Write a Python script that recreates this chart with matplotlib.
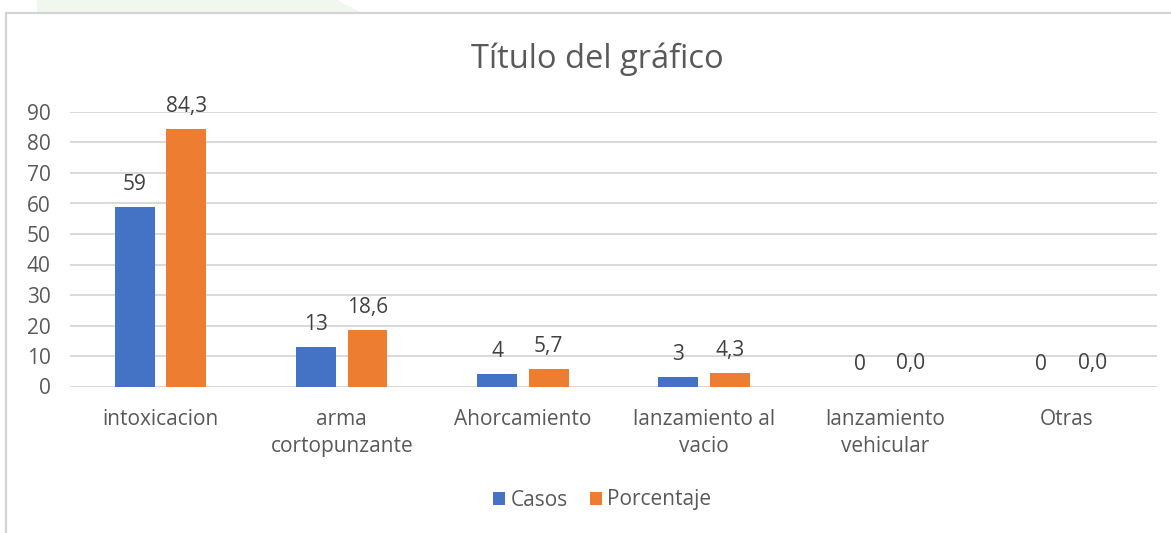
#!/usr/bin/env python
"""Bar chart: casos y porcentaje por mecanismo."""

import matplotlib

matplotlib.use("Agg")
import matplotlib.pyplot as plt
import numpy as np
from matplotlib.patches import Polygon

categorias = ["intoxicacion", "arma\ncortopunzante", "Ahorcamiento",
              "lanzamiento al\nvacio", "lanzamiento\nvehicular", "Otras"]
casos = [59, 13, 4, 3, 0, 0]
porcentaje = [84.3, 18.6, 5.7, 4.3, 0.0, 0.0]
casos_txt = ["59", "13", "4", "3", "0", "0"]
porcentaje_txt = ["84,3", "18,6", "5,7", "4,3", "0,0", "0,0"]
yticks = list(range(0, 100, 10))

BLUE = "#4472C4"
ORANGE = "#ED7D31"
GRID = "#d9d9d9"
TXT = "#595959"

plt.rcParams["font.family"] = ["Open Sans", "DejaVu Sans"]

W, H = 1171, 533
fig = plt.figure(figsize=(W / 100, H / 100), dpi=100)

# faint green shape peeking above the frame, and the chart frame itself
fig.patches.append(Polygon([(37 / W, 1), (337 / W, 1), (360 / W, 1 - 12 / H), (37 / W, 1 - 12 / H)],
                           closed=True, transform=fig.transFigure, facecolor="#f1f7ee",
                           edgecolor="none", zorder=0))
fig.add_artist(plt.Line2D([6 / W, 6 / W], [0, 1 - 13 / H], color="#d4d4d4", lw=1.6))
fig.add_artist(plt.Line2D([6 / W, 1], [1 - 13 / H, 1 - 13 / H], color="#d4d4d4", lw=1.6))

ax = fig.add_axes([70 / W, 1 - 386.5 / H, (1157 - 70) / W, (386.5 - 112) / H])
x = np.arange(len(categorias))
width = 0.22
offset = 0.142
b1 = ax.bar(x - offset, casos, width, color=BLUE, label="Casos", zorder=3)
b2 = ax.bar(x + offset, porcentaje, width, color=ORANGE, label="Porcentaje", zorder=3)

for bars, labels in ((b1, casos_txt), (b2, porcentaje_txt)):
    for rect, lab in zip(bars, labels):
        ax.annotate(lab, (rect.get_x() + rect.get_width() / 2, rect.get_height()),
                    xytext=(0, 12), textcoords="offset pixels", ha="center", va="bottom",
                    fontsize=15, color="#404040", zorder=4)

ax.set_xlim(-0.5, len(categorias) - 0.5)
ax.set_ylim(0, 90)
ax.set_yticks(yticks)
ax.set_xticks(x)
ax.set_xticklabels(categorias, linespacing=1.4)
ax.tick_params(axis="both", length=0, labelsize=15, labelcolor=TXT)
ax.tick_params(axis="x", pad=16)
ax.tick_params(axis="y", pad=14)
for lab in ax.get_yticklabels():
    lab.set_horizontalalignment("right")
ax.grid(axis="y", color=GRID, linewidth=1.4, zorder=0)
ax.set_axisbelow(True)
for spine in ax.spines.values():
    spine.set_visible(False)

fig.text(597 / W, 1 - 59 / H, "Título del gráfico", ha="center", va="center",
         fontsize=23.5, color=TXT)

fig.legend(handles=[b1, b2], loc="center", bbox_to_anchor=(602 / W, 1 - 500 / H),
           ncol=2, frameon=False, fontsize=15, labelcolor=TXT, handlelength=0.58,
           handleheight=0.58, handletextpad=0.25, columnspacing=1.05)

fig.savefig("out.png", dpi=100)
